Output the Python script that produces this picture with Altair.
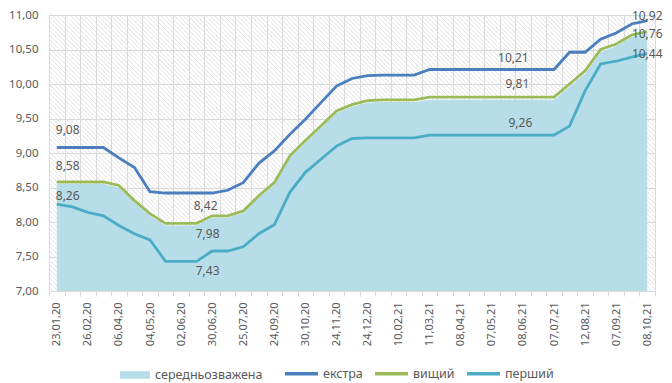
import json
import altair as alt
import pandas as pd

# ---- data -------------------------------------------------------------
tick_labels = ["23,01,20", "26,02,20", "06,04,20", "04,05,20", "02,06,20",
               "30,06,20", "25,07,20", "24,09,20", "30,10,20", "24,11,20",
               "24,12,20", "10,02,21", "11,03,21", "08,04,21", "07,05,21",
               "08,06,21", "07,07,21", "12,08,21", "07,09,21", "08,10,21"]

ekstra = [9.08, 9.08, 9.08, 9.08, 8.93, 8.79, 8.44, 8.42, 8.42, 8.42,
          8.42, 8.46, 8.57, 8.85, 9.03, 9.27, 9.49, 9.73, 9.97, 10.08,
          10.12, 10.13, 10.13, 10.13, 10.21, 10.21, 10.21, 10.21, 10.21, 10.21,
          10.21, 10.21, 10.21, 10.46, 10.46, 10.65, 10.74, 10.87, 10.92]

vyshchyi = [8.58, 8.58, 8.58, 8.58, 8.53, 8.31, 8.12, 7.98, 7.98, 7.98,
            8.09, 8.09, 8.16, 8.38, 8.57, 8.96, 9.18, 9.39, 9.61, 9.70,
            9.76, 9.77, 9.77, 9.77, 9.81, 9.81, 9.81, 9.81, 9.81, 9.81,
            9.81, 9.81, 9.81, 10.00, 10.19, 10.50, 10.58, 10.71, 10.76]

pershyi = [8.26, 8.22, 8.14, 8.09, 7.95, 7.83, 7.74, 7.43, 7.43, 7.43,
           7.58, 7.58, 7.64, 7.83, 7.96, 8.43, 8.72, 8.91, 9.10, 9.21,
           9.22, 9.22, 9.22, 9.22, 9.26, 9.26, 9.26, 9.26, 9.26, 9.26,
           9.26, 9.26, 9.26, 9.39, 9.90, 10.29, 10.33, 10.39, 10.44]

serednio = [8.55, 8.55, 8.55, 8.55, 8.50, 8.28, 8.09, 7.95, 7.95, 7.95,
            8.06, 8.06, 8.13, 8.35, 8.54, 8.93, 9.15, 9.36, 9.58, 9.67,
            9.73, 9.74, 9.74, 9.74, 9.77, 9.77, 9.77, 9.77, 9.77, 9.77,
            9.77, 9.77, 9.77, 9.96, 10.15, 10.46, 10.55, 10.68, 10.73]

names = ["середньозважена", "екстра", "вищий", "перший"]
colors = ["#b7dde8", "#4a7ebf", "#9bbb59", "#4bacc6"]

rows = []
for name, vals in zip(names, [serednio, ekstra, vyshchyi, pershyi]):
    for i, v in enumerate(vals):
        rows.append({"i": i, "series": name, "value": v})
df = pd.DataFrame(rows)

# ---- layout -----------------------------------------------------------
W, H = 606, 276
FONT = "Noto Sans"
GRID = "#d9d9d9"
TXT = "#595959"

label_expr = ("datum.value % 2 == 0 ? "
              + json.dumps(tick_labels, ensure_ascii=False)
              + "[datum.value / 2] : ''")

x_enc = alt.X(
    "i:O", bandPosition=0.5,
    scale=alt.Scale(type="band", paddingInner=0, paddingOuter=0),
    axis=alt.Axis(title=None, orient="bottom", labelExpr=label_expr,
                  labelAngle=-90, labelOverlap=False, tickBand="extent",
                  grid=True, gridColor=GRID, domainColor=GRID, tickColor=GRID,
                  tickSize=5, labelPadding=6, labelFontSize=11,
                  labelColor=TXT, labelFont=FONT),
)
y_enc = alt.Y(
    "value:Q",
    scale=alt.Scale(domain=[7, 11], nice=False, zero=False),
    axis=alt.Axis(title=None, orient="left",
                  values=[7, 7.5, 8, 8.5, 9, 9.5, 10, 10.5, 11],
                  labelExpr="replace(format(datum.value, '.2f'), '.', ',')",
                  ticks=False, domain=False, grid=True, gridColor=GRID,
                  labelPadding=11, labelFontSize=11.5, labelColor=TXT,
                  labelFont=FONT),
)

base = alt.Chart(df)

area = base.transform_filter(alt.datum.series == names[0]).mark_area().encode(
    x=x_enc, y=y_enc, y2=alt.datum(7),
    fill=alt.Fill("series:N", scale=alt.Scale(domain=names[:1], range=colors[:1]),
                  legend=alt.Legend(orient="none", legendX=71, legendY=345,
                                    direction="horizontal", title=None,
                                    symbolType="M-1,-0.25H1V0.25H-1Z",
                                    symbolSize=900, symbolStrokeWidth=0,
                                    symbolOpacity=1,
                                    labelFontSize=12.5, labelColor=TXT,
                                    labelFont=FONT, labelOffset=5, padding=0)),
)

lines = base.transform_filter(alt.datum.series != names[0]).mark_line(
    strokeWidth=2.8
).encode(
    x=x_enc, y=y_enc,
    stroke=alt.Stroke("series:N", scale=alt.Scale(domain=names[1:], range=colors[1:]),
                      legend=alt.Legend(orient="none", legendX=234, legendY=340,
                                        direction="horizontal", title=None,
                                        symbolType="stroke", symbolSize=1089,
                                        symbolStrokeWidth=3.5,
                                        labelFontSize=12.5, labelColor=TXT,
                                        labelFont=FONT, columnPadding=5,
                                        labelOffset=3, padding=0)),
)

label_specs = [
    ("екстра", 0, -1, -17, "left"), ("вищий", 0, -1, -16, "left"),
    ("перший", 0, -1, -8, "left"),
    ("екстра", 9, 9, 13, "center"), ("вищий", 9, 11, 11, "center"),
    ("перший", 9, 11, 10, "center"),
    ("екстра", 29, 6, -12, "center"), ("вищий", 29, 10, -13, "center"),
    ("перший", 29, 13, -12, "center"),
    ("екстра", 38, 0, -5, "center"), ("вищий", 38, 0, 2, "center"),
    ("перший", 38, 0, 0, "center"),
]
texts = []
for s, idx, dx, dy, al in label_specs:
    texts.append(
        base.transform_filter((alt.datum.series == s) & (alt.datum.i == idx))
        .transform_calculate(lbl="replace(format(datum.value, '.2f'), '.', ',')")
        .mark_text(dx=dx, dy=dy, align=al, baseline="middle", font=FONT,
                   fontSize=12, color=TXT)
        .encode(x=x_enc, y=y_enc, text="lbl:N")
    )

main = alt.layer(area, lines, *texts)

# ---- hatched plot background ------------------------------------------
step = 4.5
n = int((W + H) / step) + 2
hatch_df = pd.DataFrame({
    "x0": [-H + k * step for k in range(n)],
    "x1": [k * step for k in range(n)],
    "yt": [H] * n,
    "yb": [0] * n,
})
hatch = alt.Chart(hatch_df).mark_rule(
    color="#dcdcdc", strokeWidth=0.8, clip=True
).encode(
    x=alt.X("x0:Q", scale=alt.Scale(domain=[0, W], nice=False, zero=False), axis=None),
    x2="x1:Q",
    y=alt.Y("yt:Q", scale=alt.Scale(domain=[0, H], nice=False, zero=False), axis=None),
    y2="yb:Q",
)

chart = alt.layer(hatch, main).resolve_scale(
    x="independent", y="independent"
).properties(
    width=W, height=H,
    autosize=alt.AutoSizeParams(type="none"),
    padding={"left": 41, "top": 7, "right": 9, "bottom": 92},
).configure_view(stroke=None).configure(font=FONT)

chart.save("out.html", embed_options={"renderer": "svg", "actions": False})
